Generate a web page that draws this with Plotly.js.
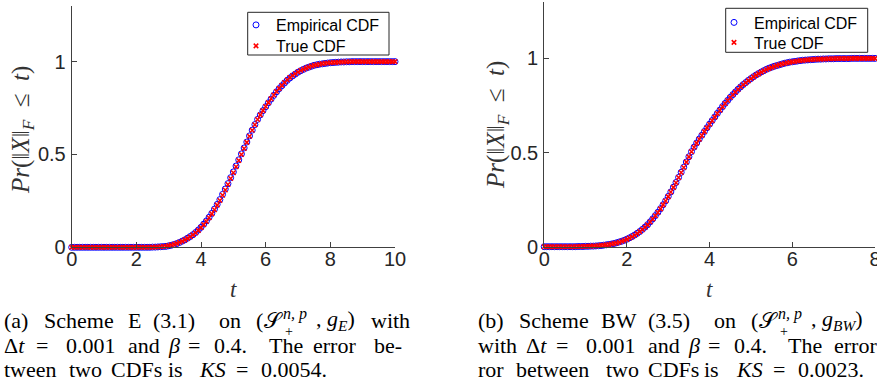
<!DOCTYPE html>
<html>
<head>
<meta charset="utf-8">
<script src="https://cdn.plot.ly/plotly-3.0.1.min.js"></script>
<style>html,body{margin:0;padding:0;background:#fff;}#chart{width:877px;height:385px;}</style>
</head>
<body>
<div id="chart"></div>
<script>
// ---- data ----
const leftStart = 0, leftStop = 10, leftCount = 121;   // sampling grid of panel (a)
const rightStart = 0, rightStop = 8, rightCount = 129; // sampling grid of panel (b)

const leftTrue = [
 0,0,0,0,0,0,0,0,0,0, 0,0,0,0,0,0,0,0,0,0, 0,0,0,0,0,0,0,0,0,
 0.000,0.001,0.001,0.002,0.003,0.004,0.006,0.009,0.012,0.016,0.021,
 0.027,0.033,0.040,0.048,0.057,0.067,0.078,0.091,0.106,0.122,
 0.139,0.159,0.180,0.202,0.227,0.252,0.280,0.309,0.338,0.370,
 0.401,0.434,0.467,0.500,0.532,0.565,0.598,0.630,0.660,0.688,
 0.713,0.736,0.758,0.779,0.800,0.820,0.839,0.856,0.872,0.887,
 0.901,0.914,0.925,0.935,0.944,0.952,0.959,0.965,0.971,0.976,
 0.980,0.983,0.986,0.988,0.991,0.992,0.994,0.995,0.996,0.997,
 0.998,0.998,0.999,0.999,
 1,1,1,1,1,1,1,1,1,1,1,1,1,1,1,1,1
];
const leftEmpirical = [
 0,0,0,0,0,0,0,0,0,0, 0,0,0,0,0,0,0,0,0,0, 0,0,0,0,0,0,0,0,0,
 0.000,0.001,0.001,0.002,0.003,0.004,0.005,0.008,0.011,0.015,0.020,
 0.026,0.033,0.040,0.049,0.058,0.068,0.080,0.093,0.108,0.125,
 0.142,0.162,0.183,0.206,0.231,0.257,0.285,0.314,0.343,0.375,
 0.406,0.438,0.471,0.503,0.535,0.567,0.600,0.631,0.661,0.689,
 0.713,0.736,0.757,0.778,0.798,0.818,0.837,0.854,0.870,0.885,
 0.899,0.912,0.923,0.933,0.943,0.951,0.958,0.965,0.970,0.975,
 0.980,0.983,0.986,0.988,0.990,0.992,0.994,0.995,0.996,0.997,
 0.998,0.998,0.999,0.999,
 1,1,1,1,1,1,1,1,1,1,1,1,1,1,1,1,1
];

const rightTrue = [
 0,0,0,0,0,0,0,0,0,0,0,0,0,
 0.001,0.001,0.001,0.002,0.002,0.003,0.004,0.004,0.005,0.007,
 0.008,0.010,0.012,0.014,0.017,0.020,0.024,0.029,0.033,0.039,
 0.046,0.053,0.061,0.070,0.080,0.091,0.103,0.116,0.131,0.147,
 0.164,0.182,0.201,0.222,0.243,0.266,0.290,0.315,0.340,0.367,
 0.394,0.421,0.449,0.477,0.504,0.528,0.550,0.571,0.591,0.611,
 0.631,0.650,0.669,0.688,0.707,0.725,0.743,0.760,0.776,0.792,
 0.807,0.821,0.835,0.848,0.860,0.871,0.882,0.892,0.902,0.911,
 0.919,0.927,0.934,0.941,0.947,0.952,0.957,0.962,0.966,0.970,
 0.973,0.977,0.979,0.982,0.984,0.986,0.988,0.989,0.991,0.992,
 0.993,0.994,0.995,0.996,0.996,0.997,0.997,0.998,0.998,0.998,
 0.999,0.999,0.999,0.999,0.999,0.999,
 1,1,1,1,1,1,1,1,1,1
];
const rightEmpirical = [
 0,0,0,0,0,0,0,0,0,0,0,0,0,
 0.001,0.001,0.001,0.002,0.002,0.003,0.003,0.004,0.005,0.006,
 0.008,0.010,0.012,0.014,0.017,0.021,0.025,0.029,0.034,0.040,
 0.047,0.054,0.062,0.071,0.081,0.092,0.104,0.117,0.132,0.148,
 0.165,0.183,0.202,0.223,0.244,0.267,0.291,0.316,0.341,0.368,
 0.395,0.422,0.450,0.478,0.505,0.529,0.551,0.572,0.592,0.612,
 0.632,0.651,0.670,0.689,0.708,0.726,0.744,0.761,0.777,0.793,
 0.808,0.822,0.836,0.849,0.861,0.872,0.883,0.893,0.903,0.912,
 0.920,0.928,0.935,0.942,0.948,0.953,0.958,0.962,0.966,0.970,
 0.974,0.977,0.980,0.982,0.984,0.986,0.988,0.990,0.991,0.992,
 0.993,0.994,0.995,0.996,0.996,0.997,0.997,0.998,0.998,0.998,
 0.999,0.999,0.999,0.999,0.999,0.999,
 1,1,1,1,1,1,1,1,1,1
];

const seriesNames = ['Empirical CDF', 'True CDF'];
const xTicksLeft = [0, 2, 4, 6, 8, 10];
const xTicksRight = [0, 2, 4, 6, 8];
const yTicks = [0, 0.5, 1];
const yTickText = ['0', '0.5', '1'];

// ---- build ----
function grid(a, b, n) { const s = (b - a) / (n - 1); return Array.from({length: n}, (_, i) => +(a + i * s).toFixed(6)); }
const tLeft = grid(leftStart, leftStop, leftCount);
const tRight = grid(rightStart, rightStop, rightCount);

const W = 877, H = 385;
const px = v => v / W;
const py = v => (H - v) / H;

const circleStyle = {symbol: 'circle-open', size: 6, color: '#0000ff', line: {width: 1, color: '#0000ff'}};
const crossStyle = {symbol: 'x-thin-open', size: 4.5, color: '#ff0000', line: {width: 1.5, color: '#ff0000'}};

const traces = [
  {x: tLeft, y: leftEmpirical, type: 'scatter', mode: 'markers', name: seriesNames[0], marker: circleStyle, xaxis: 'x', yaxis: 'y', legend: 'legend', cliponaxis: false},
  {x: tLeft, y: leftTrue, type: 'scatter', mode: 'markers', name: seriesNames[1], marker: crossStyle, xaxis: 'x', yaxis: 'y', legend: 'legend2', cliponaxis: false},
  {x: tRight, y: rightEmpirical, type: 'scatter', mode: 'markers', name: seriesNames[0], marker: circleStyle, xaxis: 'x2', yaxis: 'y2', legend: 'legend3', cliponaxis: false},
  {x: tRight, y: rightTrue, type: 'scatter', mode: 'markers', name: seriesNames[1], marker: crossStyle, xaxis: 'x2', yaxis: 'y2', legend: 'legend4', cliponaxis: false}
];

const axColor = '#404040';
const tickFont = {family: 'Liberation Sans, Arial, sans-serif', size: 20, color: '#262626'};
function xAx(domain, range, ticks, anchor) {
  return {domain, range, anchor, showline: true, linecolor: axColor, linewidth: 1, ticks: 'inside', ticklen: 5,
    tickcolor: axColor, tickwidth: 1, tickvals: ticks, ticktext: ticks.map(String), showgrid: false, zeroline: false,
    tickfont: tickFont, ticklabelstandoff: -6, ticklabeloverflow: 'allow', fixedrange: true};
}
function yAx(domain, anchor) {
  return {domain, range: [0, 1.3], anchor, showline: true, linecolor: axColor, linewidth: 1, ticks: 'inside', ticklen: 5,
    tickcolor: axColor, tickwidth: 1, tickvals: yTicks, ticktext: yTickText, showgrid: false, zeroline: false,
    tickfont: tickFont, ticklabelstandoff: 1, ticklabeloverflow: 'allow', fixedrange: true};
}

const serif = 'Liberation Serif, Times New Roman, serif';
const capColor = '#000000';
const anns = [];
function txt(text, x, y, size, opts) {
  anns.push(Object.assign({text, x: px(x), y: py(y), xref: 'paper', yref: 'paper', xanchor: 'left', yanchor: 'middle',
    showarrow: false, font: {family: serif, size: size || 22, color: capColor}, borderpad: 0}, opts || {}));
}
// axis labels
const yTitle = '<i>Pr</i>(‖<i>X</i>‖<sub><i>F</i></sub>&nbsp;&nbsp;≤&nbsp;&nbsp;<i>t</i>)';
const labFont = {family: serif, size: 25, color: '#333333'};
txt(yTitle, 22, 130, 25, {xanchor: 'center', textangle: -90, font: labFont});
txt(yTitle, 497, 125, 25, {xanchor: 'center', textangle: -90, font: labFont});
txt('<i>t</i>', 233, 289, 22, {xanchor: 'center', font: {family: serif, size: 23, color: '#333333'}});
txt('<i>t</i>', 709, 289, 22, {xanchor: 'center', font: {family: serif, size: 23, color: '#333333'}});

// captions, word by word (justified text)
const L1 = 320, L2 = 345, L3 = 369;
[['(a)',3],['Scheme',43],['E',127],['(3.1)',152],['on',218],['(',255],['𝒮',263],[',&nbsp;<i>g</i><sub><i>E</i></sub>)',315],['with',370]].forEach(w => txt(w[0], w[1], L1));
txt('<i>n,&nbsp;p</i>', 282, 314, 16);
txt('+', 284, 331, 14);
[['Δ<i>t</i>',3],['=',35],['0.001',65],['and',127],['<i>β</i>',167],['=',187],['0.4.',213],['The',268],['error',312],['be-',373]].forEach(w => txt(w[0], w[1], L2));
[['tween',3],['two',68],['CDFs',110],['is',167],['<i>KS</i>',198],['=',235],['0.0054.',260]].forEach(w => txt(w[0], w[1], L3));

[['(b)',477],['Scheme',518],['BW',600],['(3.5)',647],['on',713],['(',750],['𝒮',758],[',&nbsp;<i>g</i><sub><i>BW</i></sub>)',810]].forEach(w => txt(w[0], w[1], L1));
txt('<i>n,&nbsp;p</i>', 777, 314, 16);
txt('+', 779, 331, 14);
[['with',477],['Δ<i>t</i>',525],['=',555],['0.001',585],['and',647],['<i>β</i>',687],['=',707],['0.4.',733],['The',787],['error',833]].forEach(w => txt(w[0], w[1], L2));
[['ror',477],['between',515],['two',605],['CDFs',647],['is',703],['<i>KS</i>',735],['=',772],['0.0023.',797]].forEach(w => txt(w[0], w[1], L3));

const legendStyle = {xanchor: 'left', yanchor: 'top', bgcolor: 'rgba(0,0,0,0)', borderwidth: 0,
  font: {family: 'Liberation Sans, Arial, sans-serif', size: 16, color: '#000000'}, itemwidth: 30, tracegroupgap: 0};
const leg = (x, y) => Object.assign({x: px(x), y: py(y)}, legendStyle);

// legend frames (drawn to the reference size; the legend entries sit on top)
const boxes = [[247.7, 12.3, 389, 55], [725.7, 8.3, 867.7, 52.3]].map(b => ({
  type: 'rect', xref: 'paper', yref: 'paper', x0: px(b[0]), x1: px(b[2]), y0: py(b[3]), y1: py(b[1]),
  fillcolor: '#ffffff', line: {color: '#262626', width: 1}, layer: 'above'}));

const layout = {
  width: W, height: H, margin: {l: 0, r: 0, t: 0, b: 0}, paper_bgcolor: '#ffffff', plot_bgcolor: '#ffffff',
  showlegend: true,
  xaxis: xAx([px(71.7), px(395)], [0, 10], xTicksLeft, 'y'),
  yaxis: yAx([py(247.3), py(5.9)], 'x'),
  xaxis2: xAx([px(544.2), px(875)], [0, 8], xTicksRight, 'y2'),
  yaxis2: yAx([py(246.7), py(1.9)], 'x2'),
  legend: leg(236, 8),
  legend2: leg(236, 29),
  legend3: leg(714, 5.5),
  legend4: leg(714, 25.5),
  shapes: boxes,
  annotations: anns
};

Plotly.newPlot('chart', traces, layout, {displayModeBar: false, staticPlot: true});
</script>
</body>
</html>
